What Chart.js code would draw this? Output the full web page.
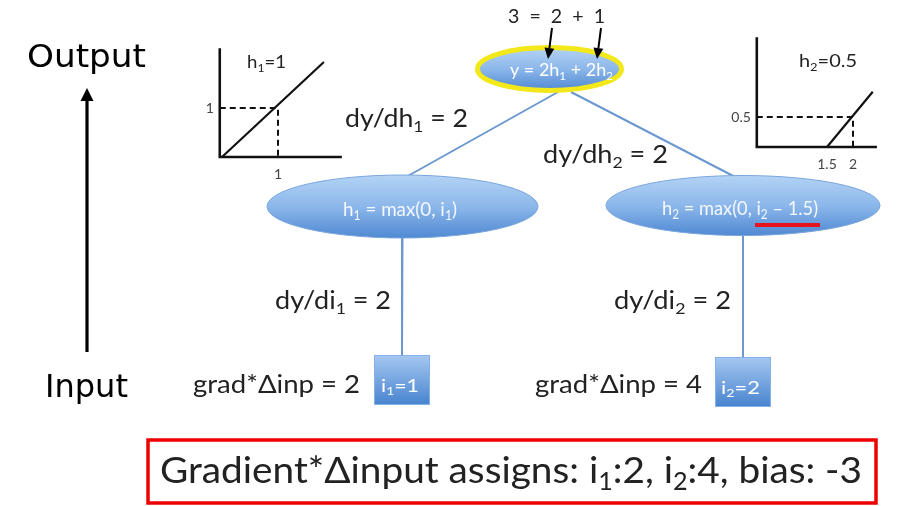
<!DOCTYPE html>
<html>
<head>
<meta charset="utf-8">
<script src="https://cdn.jsdelivr.net/npm/chart.js@4/dist/chart.umd.min.js"></script>
<style>
  html, body { margin: 0; padding: 0; background: #fff; }
  #wrap { width: 898px; height: 506px; }
</style>
</head>
<body>
<div id="wrap"><canvas id="diagram" width="898" height="506"></canvas></div>
<script>
// ---- values ----
const outputValue = 3;
const contributions = [2, 1];          // 2*h1, 2*h2
const outputWeights = [2, 2];
const hiddenBias = [0, 1.5];
const hiddenValues = [1, 0.5];
const inputValues = [1, 2];
const gradHidden = [2, 2];             // dy/dh
const gradInput = [2, 2];              // dy/di
const attributions = [2, 4];           // grad * delta input
const biasAttribution = -3;

// mini relu plots (own units)
const relu1X = [0, 1.82], relu1Y = [0, 1.94];
const relu2X = [1.5, 2.38], relu2Y = [0, 0.92];
const mini1XTicks = [1], mini1YTicks = [1];
const mini2XTicks = [1.5, 2], mini2YTicks = [0.5];

// ---- layout (diagram space = 898 x 506) ----
const W = 898, H = 506;
const topNode = { cx: 549.5, cy: 69, rx: 72, ry: 21.5 };
const hiddenNodes = [
  { cx: 402.5, cy: 206.5, rx: 135.5, ry: 31.5 },
  { cx: 743, cy: 205.5, rx: 137, ry: 30 }
];
const inputBoxes = [
  { x: 374, y: 355, w: 56, h: 50 },
  { x: 715, y: 357, w: 56, h: 50 }
];
const edgeTops = [[558, 92], [571, 92]];
const miniFrames = [
  { ox: 222, oy: 157, ux: 56, uy: 49, xFrom: -0.04, xTo: 2.14, yTo: 2.22 },
  { ox: 749, oy: 147, ux: 52, uy: 60, xFrom: 0.15, xTo: 2.46, yTo: 1.83 }
];

const blueLine = '#6a98cf';
const font = 'Lato, "Open Sans", "Noto Sans", sans-serif';
const dejavu = '"DejaVu Sans", Verdana, sans-serif';

function mini(f, vx, vy) {
  return { x: f.ox + vx * f.ux, y: f.oy - vy * f.uy };
}

function lineSet(points, color, width, dash) {
  return {
    data: points,
    showLine: true,
    borderColor: color,
    borderWidth: width,
    borderDash: dash || [],
    pointRadius: 0,
    fill: false,
    tension: 0
  };
}

const datasets = [];
// edges
datasets.push(lineSet([{ x: edgeTops[0][0], y: edgeTops[0][1] }, { x: hiddenNodes[0].cx, y: hiddenNodes[0].cy - hiddenNodes[0].ry + 4 }], blueLine, 2));
datasets.push(lineSet([{ x: edgeTops[1][0], y: edgeTops[1][1] }, { x: hiddenNodes[1].cx - 3, y: hiddenNodes[1].cy - hiddenNodes[1].ry + 4 }], blueLine, 2));
hiddenNodes.forEach((n, k) => {
  const b = inputBoxes[k];
  datasets.push(lineSet([{ x: n.cx, y: n.cy + n.ry - 4 }, { x: b.x + b.w / 2, y: b.y + 1 }], blueLine, 2));
});

// mini plots
const reluSets = [[relu1X, relu1Y], [relu2X, relu2Y]];
const marks = [[inputValues[0], hiddenValues[0]], [inputValues[1], hiddenValues[1]]];
miniFrames.forEach((f, k) => {
  datasets.push(lineSet([mini(f, f.xFrom, f.yTo), mini(f, f.xFrom, 0), mini(f, f.xTo, 0)], '#111', 2.6));
  const [rx, ry] = reluSets[k];
  datasets.push(lineSet(rx.map((v, i) => mini(f, v, ry[i])), '#111', 2.2));
  const m = marks[k];
  datasets.push(lineSet([mini(f, f.xFrom, m[1]), mini(f, m[0], m[1]), mini(f, m[0], 0)], '#111', 2, [6, 4]));
});

// ---- rich text with _x subscripts ----
function parseRich(str) {
  const segs = [];
  let buf = '';
  for (let i = 0; i < str.length; i++) {
    if (str[i] === '_' && i + 1 < str.length) {
      if (buf) segs.push({ t: buf, sub: false });
      buf = '';
      segs.push({ t: str[i + 1], sub: true });
      i++;
    } else {
      buf += str[i];
    }
  }
  if (buf) segs.push({ t: buf, sub: false });
  return segs;
}

function drawRich(ctx, str, left, baseline, width, size, family, color) {
  const segs = parseRich(str);
  let total = 0;
  segs.forEach(s => {
    ctx.font = (s.sub ? size * 0.65 : size) + 'px ' + family;
    s.w = ctx.measureText(s.t).width;
    total += s.w;
  });
  const sx = width ? width / total : 1;
  ctx.save();
  ctx.translate(left, baseline);
  ctx.scale(sx, 1);
  ctx.fillStyle = color;
  ctx.textBaseline = 'alphabetic';
  ctx.textAlign = 'left';
  let x = 0;
  segs.forEach(s => {
    ctx.font = (s.sub ? size * 0.65 : size) + 'px ' + family;
    ctx.fillText(s.t, x, s.sub ? size * 0.2 : 0);
    x += s.w;
  });
  ctx.restore();
}

const fmt = v => String(v);
const hiddenLabels = hiddenBias.map((b, k) =>
  b ? `h_${k + 1} = max(0, i_${k + 1} – ${b})` : `h_${k + 1} = max(0, i_${k + 1})`);

// [text, left, baseline, width, size, family, color]
const texts = [
  ['Output', 27, 67, 119, 32, dejavu, '#000'],
  ['Input', 45, 397, 83, 32, dejavu, '#000'],
  [`${outputValue}  =  ${contributions[0]}  +  ${contributions[1]}`, 508, 23, 97, 19, font, '#222'],
  [`y = ${outputWeights[0]}h_1 + ${outputWeights[1]}h_2`, 510, 76, 103, 17.5, font, '#fff'],
  [hiddenLabels[0], 343, 216, 114, 19.5, font, '#f4f8ff'],
  [hiddenLabels[1], 662, 215, 156, 19.5, font, '#f4f8ff'],
  [`dy/dh_1 = ${gradHidden[0]}`, 345, 127, 123, 25, font, '#222'],
  [`dy/dh_2 = ${gradHidden[1]}`, 543, 163, 125, 25, font, '#222'],
  [`dy/di_1 = ${gradInput[0]}`, 275, 309, 116, 25, font, '#222'],
  [`dy/di_2 = ${gradInput[1]}`, 614, 309, 117, 25, font, '#222'],
  [`grad*Δinp = ${attributions[0]}`, 193, 393, 167, 25, font, '#222'],
  [`grad*Δinp = ${attributions[1]}`, 535, 393, 167, 25, font, '#222'],
  [`i_1=${inputValues[0]}`, 381, 392, 38, 17, font, '#fff'],
  [`i_2=${inputValues[1]}`, 721, 394, 39, 17, font, '#fff'],
  [`h_1=${hiddenValues[0]}`, 247, 68, 39, 18, font, '#222'],
  [`h_2=${hiddenValues[1]}`, 799, 67, 58, 18, font, '#222'],
  [`Gradient*Δinput assigns: i_1:${attributions[0]}, i_2:${attributions[1]}, bias: ${biasAttribution}`, 160, 483, 702, 37, font, '#222']
];

const arrows = [
  { from: [87, 352], to: [87, 88], width: 3.2, head: 13, half: 6.5 },
  { from: [552, 28], to: [548, 59], width: 2, head: 11, half: 5 },
  { from: [601, 28], to: [597, 59], width: 2, head: 11, half: 5 }
];

const diagramPlugin = {
  id: 'diagram',
  afterDatasetsDraw(chart) {
    const ctx = chart.ctx;
    const sx = chart.scales.x, sy = chart.scales.y;
    const px = v => sx.getPixelForValue(v);
    const py = v => sy.getPixelForValue(v);

    function ellipse(n, stroke, sw) {
      const top = py(n.cy - n.ry), bot = py(n.cy + n.ry);
      const g = ctx.createLinearGradient(0, top, 0, bot);
      g.addColorStop(0, '#b3d3f5');
      g.addColorStop(0.5, '#8cb7ea');
      g.addColorStop(1, '#5089d3');
      ctx.save();
      ctx.beginPath();
      ctx.ellipse(px(n.cx), py(n.cy), px(n.cx + n.rx) - px(n.cx), py(n.cy + n.ry) - py(n.cy), 0, 0, Math.PI * 2);
      ctx.fillStyle = g;
      ctx.fill();
      if (stroke) {
        ctx.lineWidth = sw;
        ctx.strokeStyle = stroke;
        ctx.stroke();
      }
      ctx.restore();
    }

    ellipse(topNode, '#f3e81a', 5);
    hiddenNodes.forEach(n => ellipse(n, '#7aa6dd', 1));

    inputBoxes.forEach(b => {
      const x0 = px(b.x), y0 = py(b.y), x1 = px(b.x + b.w), y1 = py(b.y + b.h);
      const g = ctx.createLinearGradient(0, y0, 0, y1);
      g.addColorStop(0, '#a6c8f1');
      g.addColorStop(1, '#4783cf');
      ctx.fillStyle = g;
      ctx.fillRect(x0, y0, x1 - x0, y1 - y0);
      ctx.strokeStyle = '#85b2e6';
      ctx.lineWidth = 1;
      ctx.strokeRect(x0 + 0.5, y0 + 0.5, x1 - x0 - 1, y1 - y0 - 1);
    });

    // red underline under "i2 - 1.5"
    ctx.fillStyle = '#e8141b';
    ctx.fillRect(px(755), py(223), px(820) - px(755), py(227) - py(223));

    arrows.forEach(a => {
      const x0 = px(a.from[0]), y0 = py(a.from[1]), x1 = px(a.to[0]), y1 = py(a.to[1]);
      const ang = Math.atan2(y1 - y0, x1 - x0);
      const bx = x1 - Math.cos(ang) * a.head, by = y1 - Math.sin(ang) * a.head;
      ctx.save();
      ctx.strokeStyle = '#000';
      ctx.fillStyle = '#000';
      ctx.lineWidth = a.width;
      ctx.beginPath();
      ctx.moveTo(x0, y0);
      ctx.lineTo(bx, by);
      ctx.stroke();
      ctx.beginPath();
      ctx.moveTo(x1, y1);
      ctx.lineTo(bx + Math.sin(ang) * a.half, by - Math.cos(ang) * a.half);
      ctx.lineTo(bx - Math.sin(ang) * a.half, by + Math.cos(ang) * a.half);
      ctx.closePath();
      ctx.fill();
      ctx.restore();
    });

    // mini plot tick labels
    const tickSets = [[mini1XTicks, mini1YTicks], [mini2XTicks, mini2YTicks]];
    ctx.save();
    ctx.font = '14px ' + font;
    ctx.fillStyle = '#444';
    ctx.textBaseline = 'middle';
    ctx.textAlign = 'center';
    miniFrames.forEach((f, k) => {
      tickSets[k][0].forEach(v => {
        const p = mini(f, v, 0);
        ctx.fillText(fmt(v), px(p.x), py(p.y + 17));
      });
      tickSets[k][1].forEach(v => {
        const p = mini(f, f.xFrom, v);
        ctx.textAlign = 'right';
        ctx.fillText(fmt(v), px(p.x - 6), py(p.y));
        ctx.textAlign = 'center';
      });
    });
    ctx.restore();

    texts.forEach(t => {
      const [str, left, base, w, size, fam, color] = t;
      drawRich(ctx, str, px(left), py(base), px(left + w) - px(left), size, fam, color);
    });

    // red summary frame
    ctx.save();
    ctx.strokeStyle = '#ec0000';
    ctx.lineWidth = 3.5;
    ctx.strokeRect(px(148), py(440), px(876) - px(148), py(503) - py(440));
    ctx.restore();
  }
};

new Chart(document.getElementById('diagram'), {
  type: 'scatter',
  data: { datasets },
  options: {
    responsive: false,
    animation: false,
    events: [],
    layout: { padding: 0 },
    scales: {
      x: { type: 'linear', min: 0, max: W, display: false },
      y: { type: 'linear', min: 0, max: H, reverse: true, display: false }
    },
    plugins: {
      legend: { display: false },
      tooltip: { enabled: false }
    }
  },
  plugins: [diagramPlugin]
});
</script>
</body>
</html>
